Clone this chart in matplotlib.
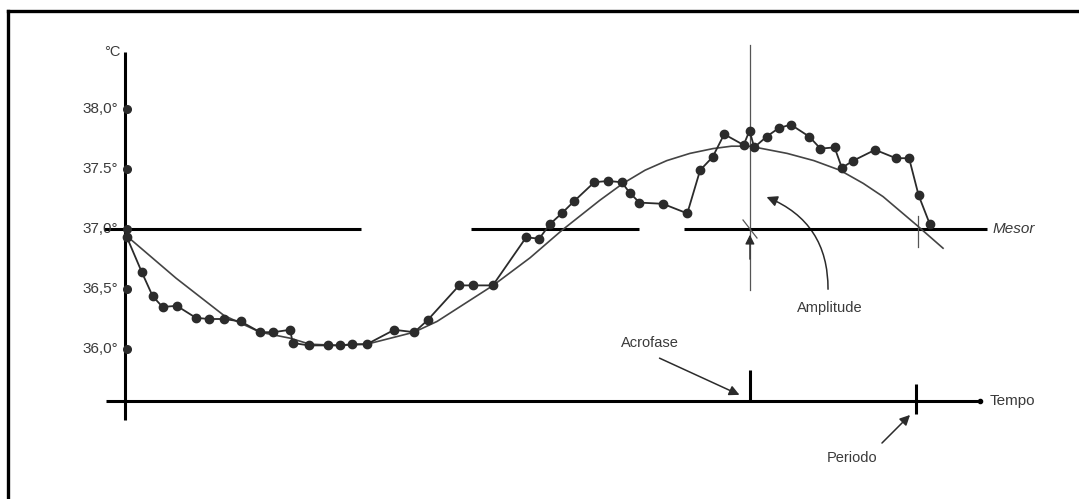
"""
Ritmo circadiano da temperatura: pontos medidos, curva cossenoidal ajustada,
mesor, amplitude, acrofase e periodo.  Writes out.png (1079x499).
"""
import matplotlib
matplotlib.use("Agg")
import matplotlib.pyplot as plt
from matplotlib.patches import FancyArrowPatch
from matplotlib.lines import Line2D

# ── data (time in hours from start, temperature in °C) ─────────────────────────
time_h = [0.06, 0.51, 0.84, 1.14, 1.57, 2.15, 2.54, 3.00, 3.51, 4.10,
          4.50, 5.01, 5.09, 5.58, 6.16, 6.52, 6.89, 7.34, 8.17, 8.78,
          9.18, 10.14, 10.55, 11.16, 12.17, 12.57, 12.89, 13.25, 13.62, 14.24,
          14.65, 15.07, 15.32, 15.61, 16.32, 17.06, 17.45, 17.83, 18.18, 18.77,
          18.95, 19.09, 19.47, 19.83, 20.20, 20.76, 21.10, 21.53, 21.75, 22.10,
          22.76, 23.39, 23.79, 24.08, 24.42]
temp_c = [36.93, 36.64, 36.44, 36.35, 36.36, 36.26, 36.25, 36.25, 36.23, 36.14,
          36.14, 36.16, 36.05, 36.03, 36.03, 36.03, 36.04, 36.04, 36.16, 36.14,
          36.24, 36.53, 36.53, 36.53, 36.93, 36.92, 37.04, 37.13, 37.23, 37.39,
          37.40, 37.39, 37.30, 37.22, 37.21, 37.13, 37.49, 37.60, 37.79, 37.70,
          37.82, 37.68, 37.77, 37.84, 37.87, 37.77, 37.67, 37.68, 37.51, 37.57,
          37.66, 37.59, 37.59, 37.28, 37.04]

fit_time_h = [0.06, 1.55, 3.00, 4.10, 5.01, 5.61, 6.52, 7.34, 8.77, 9.47,
              11.17, 12.29, 13.26, 14.41, 15.11, 15.78, 16.44, 17.14, 17.84,
              18.40, 18.96, 20.09, 20.90, 21.69, 22.40, 23.00, 24.03, 24.82]
fit_temp_c = [36.94, 36.59, 36.28, 36.14, 36.09, 36.04, 36.03, 36.04, 36.14,
              36.23, 36.53, 36.76, 36.99, 37.24, 37.38, 37.49, 37.57, 37.63,
              37.67, 37.69, 37.69, 37.63, 37.57, 37.49, 37.38, 37.27, 37.03,
              36.84]

tick_values = [38.0, 37.5, 37.0, 36.5, 36.0]
tick_labels = ["38,0°", "37.5°", "37,0°", "36,5°", "36,0°"]

MESOR = 37.0
ACROFASE_H = 18.96
PERIODO_H = 24.0

# ── layout: pixel grid of the 1079x499 canvas mapped to data units ─────────────
W, H = 1079, 499
X0, Y0 = 125, 229            # pixel of (t=0, 37.0 °C)
PX_PER_H = 791 / 24.0
PX_PER_C = 120.0


def P(x, y):
    """pixel position -> data position (for the drawn scaffolding only)."""
    return (x - X0) / PX_PER_H, MESOR - (y - Y0) / PX_PER_C


INK = "#2b2b2b"
TXT = "#3a3a3a"
plt.rcParams["font.family"] = ["Liberation Sans", "DejaVu Sans"]

fig = plt.figure(figsize=(W / 100, H / 100), dpi=100)
ax = fig.add_axes([0, 0, 1, 1])
ax.set_xlim(P(0, 0)[0], P(W, 0)[0])
ax.set_ylim(P(0, H)[1], P(0, 0)[1])
ax.axis("off")

# page frame (left + top edges of the scanned box)
fig.add_artist(Line2D([8 / W, 8 / W], [0, 1 - 11 / H], color="black", lw=2.4))
fig.add_artist(Line2D([8 / W, 1], [1 - 11 / H, 1 - 11 / H], color="black", lw=2.4))

# ── axes drawn by hand ────────────────────────────────────────────────────────
t_axis = P(0, 401)[1]
ax.plot([P(106, 0)[0], P(980, 0)[0]], [t_axis, t_axis], color="black", lw=2.2,
        solid_capstyle="butt")
ax.plot([P(980, 0)[0]], [t_axis], "o", color="black", ms=3)
ax.plot([0, 0], [P(0, 420)[1], P(0, 52)[1]], color="black", lw=2.2,
        solid_capstyle="butt")
ax.text(*P(121, 52), "°C", ha="right", va="center", fontsize=10.5, color=TXT)

for v, lab in zip(tick_values, tick_labels):
    ax.text(P(118, 0)[0], v, lab, ha="right", va="center", fontsize=11, color=TXT)
ax.plot([0.06] * len(tick_values), tick_values, "o", color=INK, ms=5.5, zorder=4)

# mesor (broken horizontal line)
for a, b in [(104, 361), (471, 639), (684, 987)]:
    ax.plot([P(a, 0)[0], P(b, 0)[0]], [MESOR, MESOR], color="black", lw=2.2,
            solid_capstyle="butt")
ax.text(*P(993, 229), "Mesor", ha="left", va="center", fontsize=11,
        style="italic", color=TXT)

# ── series ────────────────────────────────────────────────────────────────────
ax.plot(fit_time_h, fit_temp_c, color="#444444", lw=1.2, zorder=3)
ax.plot(time_h, temp_c, "-o", color=INK, lw=1.3, ms=6, zorder=4)

# ── acrofase / amplitude / periodo marks ──────────────────────────────────────
ax.plot([ACROFASE_H, ACROFASE_H], [P(0, 290)[1], P(0, 45)[1]], color="#555555",
        lw=0.9, zorder=2)
ax.plot([ACROFASE_H, ACROFASE_H], [t_axis, P(0, 370)[1]], color="black", lw=2.2,
        solid_capstyle="butt")
ax.plot([PERIODO_H, PERIODO_H], [P(0, 414)[1], P(0, 384)[1]], color="black",
        lw=2.2, solid_capstyle="butt")
ax.plot([P(743, 0)[0], P(757, 0)[0]], [P(0, 220)[1], P(0, 238)[1]],
        color="#555555", lw=0.9)
ax.plot([P(918, 0)[0], P(918, 0)[0]], [P(0, 247)[1], P(0, 216)[1]],
        color="#555555", lw=0.9)

ax.annotate("", xy=(ACROFASE_H, P(0, 232)[1]), xytext=(ACROFASE_H, P(0, 262)[1]),
            arrowprops=dict(arrowstyle="-|>", color=INK, lw=0.9,
                            mutation_scale=14))
ax.add_patch(FancyArrowPatch(P(828, 292), P(764, 196),
                             connectionstyle="arc3,rad=0.35", arrowstyle="-|>",
                             mutation_scale=16, color=INK, lw=1.1))
ax.text(*P(830, 308), "Amplitude", ha="center", va="center", fontsize=10.5,
        color=TXT)

ax.annotate("", xy=P(742, 396), xytext=P(657, 357),
            arrowprops=dict(arrowstyle="-|>", color=INK, lw=1.1,
                            mutation_scale=15))
ax.text(*P(650, 343), "Acrofase", ha="center", va="center", fontsize=10.5,
        color=TXT)

ax.annotate("", xy=P(912, 413), xytext=P(880, 445),
            arrowprops=dict(arrowstyle="-|>", color=INK, lw=1.1,
                            mutation_scale=15))
ax.text(*P(852, 458), "Periodo", ha="center", va="center", fontsize=10.5,
        color=TXT)
ax.text(*P(990, 401), "Tempo", ha="left", va="center", fontsize=11, color=TXT)

fig.savefig("out.png", dpi=100)
